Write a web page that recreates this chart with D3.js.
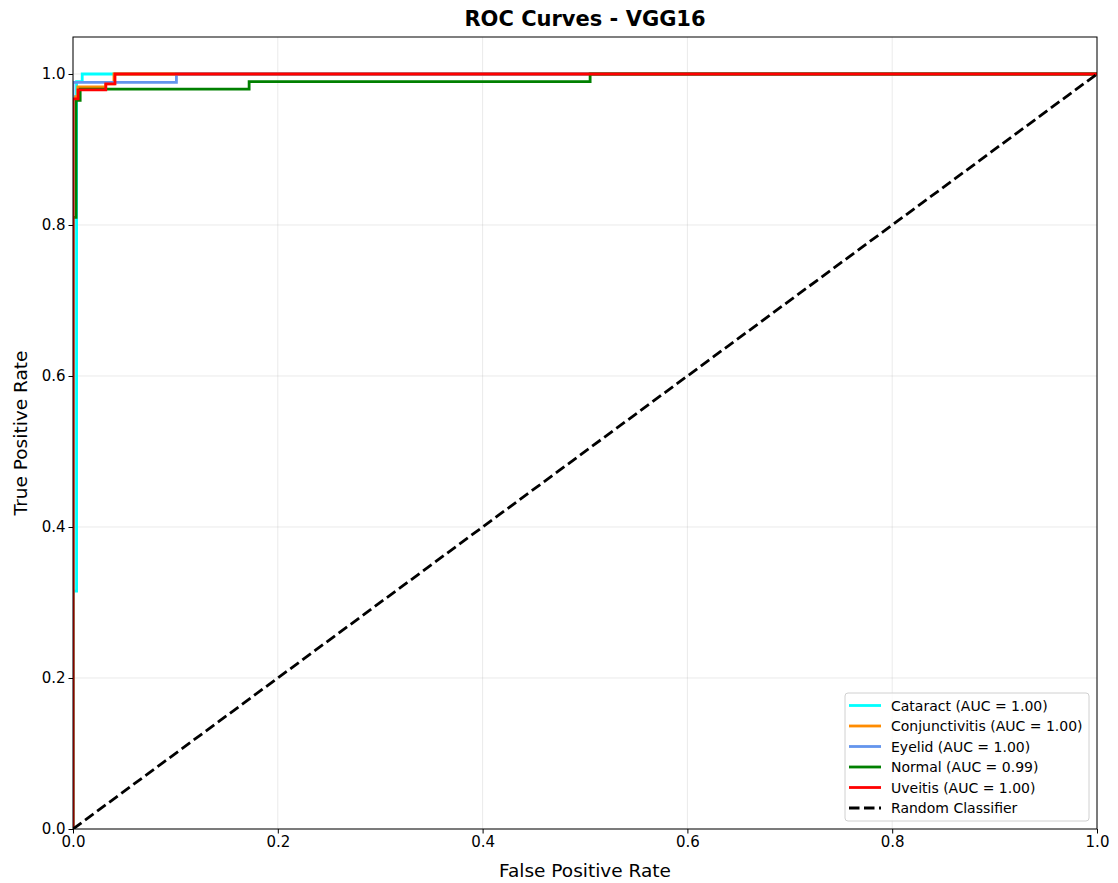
<!DOCTYPE html>
<html>
<head>
<meta charset="utf-8">
<script src="https://cdn.jsdelivr.net/npm/d3@7"></script>
<style>
  html, body { margin: 0; padding: 0; background: #fff; }
  svg { display: block; font-family: "DejaVu Sans", sans-serif; }
</style>
</head>
<body>
<svg id="chart" width="1118" height="883"></svg>
<script>
// ROC curve points per class: [false positive rate, true positive rate]
const classNames = ["Cataract", "Conjunctivitis", "Eyelid", "Normal", "Uveitis"];
const aucValues = [1.00, 1.00, 1.00, 0.99, 1.00];
const classColors = ["#00ffff", "#ff8c00", "#6495ed", "#008000", "#ff0000"];

const cataractRoc = [[0, 0], [0, 0.315], [0.0035, 0.315], [0.0035, 0.99], [0.009, 0.99], [0.009, 1], [1, 1]];
const conjunctivitisRoc = [[0, 0], [0, 0.97], [0.0047, 0.97], [0.0047, 0.983], [0.032, 0.983], [0.032, 0.987], [0.04, 0.987], [0.04, 1], [1, 1]];
const eyelidRoc = [[0, 0], [0, 0.989], [0.101, 0.989], [0.101, 1], [1, 1]];
const normalRoc = [[0, 0], [0, 0.81], [0.003, 0.81], [0.003, 0.965], [0.007, 0.965], [0.007, 0.98], [0.172, 0.98], [0.172, 0.99], [0.505, 0.99], [0.505, 1], [1, 1]];
const uveitisRoc = [[0, 0], [0, 0.967], [0.005, 0.967], [0.005, 0.979], [0.032, 0.979], [0.032, 0.987], [0.041, 0.987], [0.041, 1], [1, 1]];
const rocCurves = [cataractRoc, conjunctivitisRoc, eyelidRoc, normalRoc, uveitisRoc];

const randomLine = [[0, 0], [1, 1]];
const tickValues = [0, 0.2, 0.4, 0.6, 0.8, 1.0];

const svg = d3.select("#chart");
const margin = { left: 73, right: 21, top: 37, bottom: 54 };
const W = 1118, H = 883;
const plotW = W - margin.left - margin.right;
const plotH = H - margin.top - margin.bottom;

const x = d3.scaleLinear().domain([0, 1]).range([margin.left, margin.left + plotW]);
const y = d3.scaleLinear().domain([0, 1.049]).range([margin.top + plotH, margin.top]);

// grid
const grid = svg.append("g");
grid.selectAll("line.gx").data(tickValues).join("line")
  .attr("x1", d => x(d)).attr("x2", d => x(d))
  .attr("y1", margin.top).attr("y2", margin.top + plotH)
  .attr("stroke", "#b0b0b0").attr("stroke-opacity", 0.3).attr("stroke-width", 0.9);
grid.selectAll("line.gy").data(tickValues).join("line")
  .attr("y1", d => y(d)).attr("y2", d => y(d))
  .attr("x1", margin.left).attr("x2", margin.left + plotW)
  .attr("stroke", "#b0b0b0").attr("stroke-opacity", 0.3).attr("stroke-width", 0.9);

// curves
svg.append("clipPath").attr("id", "plotClip").append("rect")
  .attr("x", margin.left).attr("y", margin.top).attr("width", plotW).attr("height", plotH);

const line = d3.line().x(d => x(d[0])).y(d => y(d[1]));
const curves = svg.append("g").attr("clip-path", "url(#plotClip)");
rocCurves.forEach((pts, i) => {
  curves.append("path").datum(pts)
    .attr("d", line)
    .attr("fill", "none")
    .attr("stroke", classColors[i])
    .attr("stroke-width", 2.8)
    .attr("stroke-linejoin", "miter")
    .attr("stroke-linecap", "square");
});
curves.append("path").datum(randomLine)
  .attr("d", line)
  .attr("fill", "none")
  .attr("stroke", "#000")
  .attr("stroke-width", 2.8)
  .attr("stroke-dasharray", "10.5,4.5");

// axes
const fmt = d3.format(".1f");
const xAxis = svg.append("g")
  .attr("transform", `translate(0,${margin.top + plotH})`)
  .call(d3.axisBottom(x).tickValues(tickValues).tickFormat(fmt).tickSize(4.5).tickPadding(3));
const yAxis = svg.append("g")
  .attr("transform", `translate(${margin.left},0)`)
  .call(d3.axisLeft(y).tickValues(tickValues).tickFormat(fmt).tickSize(4.5).tickPadding(3));
[xAxis, yAxis].forEach(a => {
  a.select(".domain").remove();
  a.selectAll("text").attr("font-size", 15).attr("fill", "#000").attr("font-family", "DejaVu Sans");
  a.selectAll(".tick line").attr("stroke", "#000").attr("stroke-width", 1);
});

// frame
svg.append("rect")
  .attr("x", margin.left).attr("y", margin.top)
  .attr("width", plotW).attr("height", plotH)
  .attr("fill", "none").attr("stroke", "#000").attr("stroke-width", 1);

// labels
svg.append("text").attr("x", margin.left + plotW / 2).attr("y", 26)
  .attr("text-anchor", "middle").attr("font-size", 21).attr("font-weight", "bold")
  .text("ROC Curves - VGG16");
svg.append("text").attr("x", margin.left + plotW / 2).attr("y", 877)
  .attr("text-anchor", "middle").attr("font-size", 18.5)
  .text("False Positive Rate");
svg.append("text")
  .attr("transform", `translate(27,${margin.top + plotH / 2}) rotate(-90)`)
  .attr("text-anchor", "middle").attr("font-size", 18.5)
  .text("True Positive Rate");

// legend
const legendItems = classNames.map((n, i) => ({
  label: `${n} (AUC = ${aucValues[i].toFixed(2)})`, color: classColors[i], dash: null
})).concat([{ label: "Random Classifier", color: "#000", dash: "10.5,4.5" }]);

const lg = svg.append("g");
lg.append("rect")
  .attr("x", 845).attr("y", 693).attr("width", 244).attr("height", 128)
  .attr("rx", 3).attr("fill", "#fff").attr("fill-opacity", 0.8)
  .attr("stroke", "#d0d0d0").attr("stroke-width", 1);
legendItems.forEach((d, i) => {
  const cy = 705.5 + i * 20.5;
  lg.append("line")
    .attr("x1", 849).attr("x2", 881).attr("y1", cy).attr("y2", cy)
    .attr("stroke", d.color).attr("stroke-width", 2.8)
    .attr("stroke-dasharray", d.dash);
  lg.append("text").attr("x", 891).attr("y", cy + 5)
    .attr("font-size", 14).attr("fill", "#000").text(d.label);
});
</script>
</body>
</html>
